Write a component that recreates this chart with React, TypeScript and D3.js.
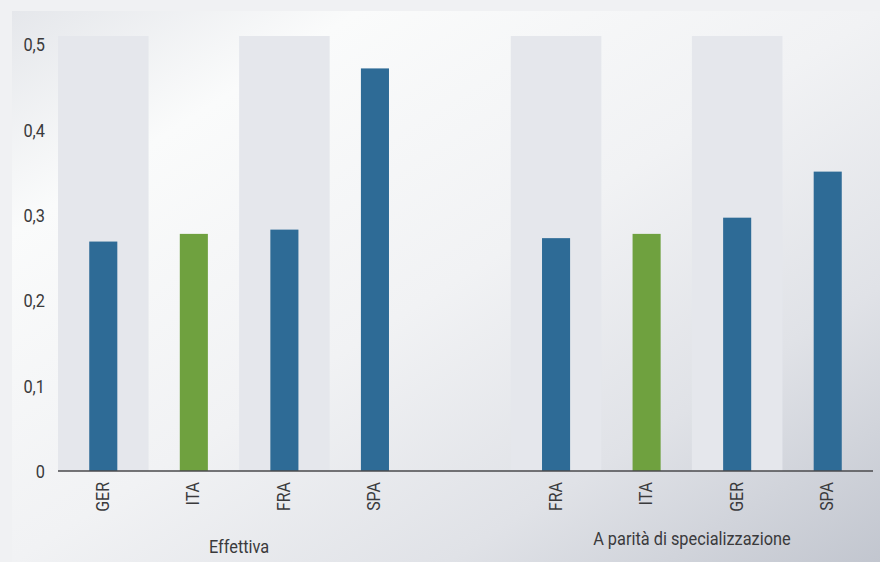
import React from "react";
import * as d3 from "d3";

const categories = ["GER", "ITA", "FRA", "SPA", "FRA", "ITA", "GER", "SPA"];
const groupOf = [0, 0, 0, 0, 1, 1, 1, 1];
const values = [0.269, 0.278, 0.283, 0.472, 0.273, 0.278, 0.297, 0.351];
const highlight = ["ITA"];
const groups = ["Effettiva", "A parità di specializzazione"];
const yTicks = [0, 0.1, 0.2, 0.3, 0.4, 0.5];
const shadedInGroup = [0, 2];

const W = 880;
const H = 562;
const slotsPerGroup = 4;
const slotCount = slotsPerGroup * groups.length + (groups.length - 1);

export default function App() {
  const slotIdx = (i: number) => groupOf[i] * (slotsPerGroup + 1) + (i % slotsPerGroup);
  const x = d3
    .scaleBand<number>()
    .domain(d3.range(slotCount))
    .range([58, 873])
    .padding(0);
  const y = d3.scaleLinear().domain([0, 0.51]).range([471, 36]);
  const bw = x.bandwidth();
  const barW = bw * 0.31;
  const fmt = (v: number) => (v === 0 ? "0" : d3.format(".1f")(v).replace(".", ","));
  const font = "Roboto, 'Noto Sans', sans-serif";
  const txt = "#3a3a3c";
  const fs = 19;
  const groupBaselines = [553, 545];

  return (
    <svg width={W} height={H} style={{ position: "absolute", left: 0, top: 0 }}>
      <defs>
        <linearGradient id="bg" x1="0" y1="0" x2="1" y2="1">
          <stop offset="0" stopColor="#e5e7eb" />
          <stop offset="0.2" stopColor="#fafbfb" />
          <stop offset="0.5" stopColor="#f1f2f4" />
          <stop offset="0.75" stopColor="#e0e2e7" />
          <stop offset="1" stopColor="#c2c6cf" />
        </linearGradient>
      </defs>
      <rect x={0} y={0} width={W} height={H} fill="#f0f1f3" />
      <rect x={12} y={11} width={W - 12} height={H - 11} fill="url(#bg)" />
      {groups.map((g, gi) =>
        shadedInGroup.map((s) => {
          const si = gi * (slotsPerGroup + 1) + s;
          return (
            <rect
              key={`s${gi}-${s}`}
              x={x(si)!}
              y={y(0.51)}
              width={bw}
              height={y(0) - y(0.51)}
              fill="#e5e7ec"
            />
          );
        })
      )}
      {values.map((v, i) => {
        const cx = x(slotIdx(i))! + bw / 2;
        return (
          <rect
            key={`b${i}`}
            x={cx - barW / 2}
            y={y(v)}
            width={barW}
            height={y(0) - y(v)}
            fill={highlight.includes(categories[i]) ? "#6fa13f" : "#2e6b96"}
          />
        );
      })}
      <line x1={58} x2={873} y1={y(0)} y2={y(0)} stroke="#4a4a4c" strokeWidth={1.4} />
      {yTicks.map((t) => (
        <text
          key={`t${t}`}
          transform={`translate(45,${y(t)}) scale(0.86,1)`}
          dy="0.36em"
          textAnchor="end"
          fontFamily={font}
          fontSize={fs}
          fill={txt}
        >
          {fmt(t)}
        </text>
      ))}
      {categories.map((c, i) => {
        const cx = x(slotIdx(i))! + bw / 2;
        return (
          <text
            key={`c${i}`}
            transform={`translate(${cx + 5.5},482) rotate(-90) scale(0.84,1)`}
            textAnchor="end"
            fontFamily={font}
            fontSize={fs}
            fill={txt}
          >
            {c}
          </text>
        );
      })}
      {groups.map((g, gi) => {
        const a = x(gi * (slotsPerGroup + 1))!;
        const b = x(gi * (slotsPerGroup + 1) + slotsPerGroup - 1)! + bw;
        return (
          <text
            key={`g${gi}`}
            transform={`translate(${(a + b) / 2},${groupBaselines[gi]}) scale(0.86,1)`}
            textAnchor="middle"
            fontFamily={font}
            fontSize={fs}
            fill={txt}
          >
            {g}
          </text>
        );
      })}
    </svg>
  );
}
